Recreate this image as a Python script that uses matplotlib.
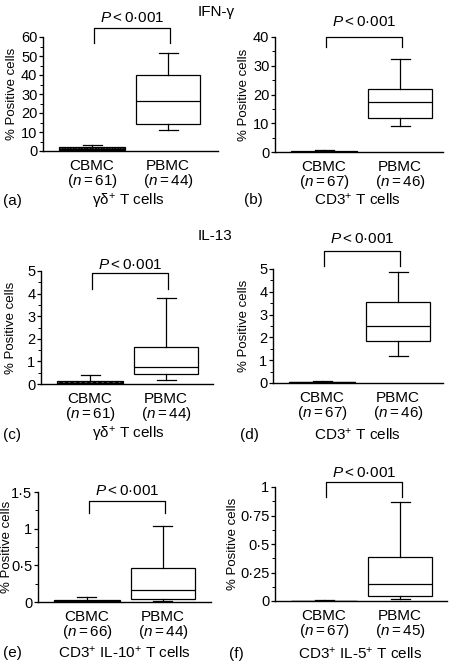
import matplotlib
matplotlib.use("Agg")
import matplotlib.pyplot as plt
from matplotlib.ticker import FixedLocator

plt.rcParams['font.family'] = ['Liberation Sans', 'DejaVu Sans']
plt.rcParams['mathtext.fontset'] = 'custom'
plt.rcParams['mathtext.rm'] = 'Liberation Sans'
plt.rcParams['mathtext.it'] = 'Liberation Sans:italic'
plt.rcParams['mathtext.bf'] = 'Liberation Sans:bold'

# ---------------- data ----------------
groups = ['CBMC', 'PBMC']

# box stats: [whisker low, Q1, median, Q3, whisker high]
a_cbmc = [0.0, 0.3, 1.0, 2.3, 3.1]
a_pbmc = [11.2, 14.0, 26.5, 40.2, 51.5]
b_cbmc = [0.0, 0.05, 0.15, 0.35, 0.6]
b_pbmc = [8.9, 11.9, 17.3, 22.0, 32.2]
c_cbmc = [0.0, 0.02, 0.06, 0.15, 0.42]
c_pbmc = [0.17, 0.45, 0.74, 1.62, 3.8]
d_cbmc = [0.0, 0.01, 0.03, 0.06, 0.1]
d_pbmc = [1.2, 1.83, 2.48, 3.55, 4.85]
e_cbmc = [0.0, 0.005, 0.01, 0.03, 0.07]
e_pbmc = [0.01, 0.04, 0.165, 0.46, 1.04]
f_cbmc = [0.0, 0.001, 0.002, 0.004, 0.01]
f_pbmc = [0.015, 0.04, 0.145, 0.39, 0.865]

n_a = [61, 44]
n_b = [67, 46]
n_c = [61, 44]
n_d = [67, 46]
n_e = [66, 44]
n_f = [67, 45]

yticks_a = [0, 10, 20, 30, 40, 50, 60]
yticks_b = [0, 10, 20, 30, 40]
yticks_c = [0, 1, 2, 3, 4, 5]
yticks_d = [0, 1, 2, 3, 4, 5]
yticks_e = [0, 0.5, 1, 1.5]
yticks_f = [0, 0.25, 0.5, 0.75, 1]
ylabels_e = ['0', '0·5', '1', '1·5']
ylabels_f = ['0', '0·25', '0·5', '0·75', '1']

cells = [r'γδ$^{+}$ T cells', r'CD3$^{+}$ T cells',
         r'γδ$^{+}$ T cells', r'CD3$^{+}$ T cells',
         r'CD3$^{+}$ IL-10$^{+}$ T cells', r'CD3$^{+}$ IL-5$^{+}$ T cells']
letters = ['(a)', '(b)', '(c)', '(d)', '(e)', '(f)']
pvalue = r'$P<$0·001'

# bracket: (top, foot, text y)
brk = [(64.7, 56.8, 70.0), (40.0, 36.5, 45.2), (4.91, 4.2, 5.27),
       (5.79, 5.13, 6.3), (1.38, 1.21, 1.52), (1.04, 0.91, 1.12)]

# ---------------- layout ----------------
W, H = 450, 664
fig = plt.figure(figsize=(W / 100, H / 100), dpi=100)

# pixel boxes: left, right, top(ymax), bottom(y=0)
boxes_px = [(43, 218, 37, 151), (275, 443, 37, 152),
            (41, 213, 271, 384), (273, 443, 269, 383),
            (38, 211, 492, 602), (275, 447, 487, 601)]
ylabel_x_px = [12, 244, 11, 244, 7, 233]

stats = [(a_cbmc, a_pbmc), (b_cbmc, b_pbmc), (c_cbmc, c_pbmc),
         (d_cbmc, d_pbmc), (e_cbmc, e_pbmc), (f_cbmc, f_pbmc)]
ns = [n_a, n_b, n_c, n_d, n_e, n_f]
yt = [yticks_a, yticks_b, yticks_c, yticks_d, yticks_e, yticks_f]
yl = [None, None, None, None, ylabels_e, ylabels_f]

PX_PER_UNIT = 76.0
FS = 11

for i in range(6):
    l, r, t, b = boxes_px[i]
    ax = fig.add_axes([l / W, 1 - b / H, (r - l) / W, (b - t) / H])
    cb, pb = stats[i]
    bx = []
    for s, lab in zip((cb, pb), groups):
        bx.append(dict(whislo=s[0], q1=s[1], med=s[2], q3=s[3], whishi=s[4],
                       fliers=[], label=lab))
    arts = ax.bxp(bx, positions=[1, 2], widths=[0.88, 0.85], patch_artist=True,
                  showfliers=False, capwidths=[0.25, 0.25],
                  boxprops=dict(linewidth=0.9, edgecolor='black', facecolor='white'),
                  whiskerprops=dict(linewidth=0.9, color='black'),
                  capprops=dict(linewidth=0.9, color='black'),
                  medianprops=dict(linewidth=0.9, color='black'),
                  manage_ticks=False, zorder=2)
    # CBMC box hatched
    arts['boxes'][0].set_hatch('xxxxxx')
    arts['boxes'][0].set_facecolor('#777777')

    ymax = yt[i][-1]
    ax.set_ylim(0, ymax)
    ax.set_xlim(1 - 49 / PX_PER_UNIT, 1 - 49 / PX_PER_UNIT + (r - l) / PX_PER_UNIT)
    for sp in ('top', 'right'):
        ax.spines[sp].set_visible(False)
    ax.spines['left'].set_linewidth(1.0)
    ax.spines['bottom'].set_linewidth(1.0)
    ax.spines['left'].set_zorder(3)
    ax.spines['bottom'].set_zorder(3)

    ax.set_yticks(yt[i])
    if yl[i] is not None:
        ax.set_yticklabels(yl[i])
    else:
        ax.set_yticklabels([str(v) for v in yt[i]])
    step = yt[i][1] - yt[i][0]
    minors = [v + step / 2 for v in yt[i][:-1]]
    ax.yaxis.set_minor_locator(FixedLocator(minors))
    ax.tick_params(axis='y', which='major', length=3, width=0.9, labelsize=10.5, pad=1)
    ax.tick_params(axis='y', which='minor', length=2, width=0.7)

    ax.set_xticks([1, 2])
    ax.set_xticklabels([f'{g}\n' + r'$(n=' + f'{n}' + r')$' for g, n in zip(groups, ns[i])],
                       fontsize=FS, linespacing=0.95)
    ax.tick_params(axis='x', length=0, pad=5.5)

    ax.set_ylabel('% Positive cells', fontsize=9.5, va='center')
    ax.yaxis.set_label_coords((ylabel_x_px[i] - l) / (r - l), 0.5)

    top, foot, ty = brk[i]
    x1, x2 = 1.03, 2.03
    ax.plot([x1, x1, x2, x2], [foot, top, top, foot], color='black', lw=0.9,
            clip_on=False, zorder=4)
    ax.text((x1 + x2) / 2, ty, pvalue, ha='center', va='center', fontsize=FS,
            clip_on=False)

# panel letters and cell-type labels (pixel positions)
letter_pos = [(12, 201), (253, 200), (12, 435), (249, 435), (12, 653), (236, 654)]
cell_pos = [(128, 201), (357, 200), (128, 435), (357, 435), (124, 653), (360, 654)]
for i in range(6):
    fig.text(letter_pos[i][0] / W, 1 - letter_pos[i][1] / H, letters[i],
             ha='center', va='center', fontsize=FS)
    fig.text(cell_pos[i][0] / W, 1 - cell_pos[i][1] / H, cells[i],
             ha='center', va='center', fontsize=FS)

fig.text(216 / W, 1 - 12 / H, 'IFN-γ', ha='center', va='center', fontsize=FS)
fig.text(215 / W, 1 - 236 / H, 'IL-13', ha='center', va='center', fontsize=FS)

fig.savefig('out.png', dpi=100)
